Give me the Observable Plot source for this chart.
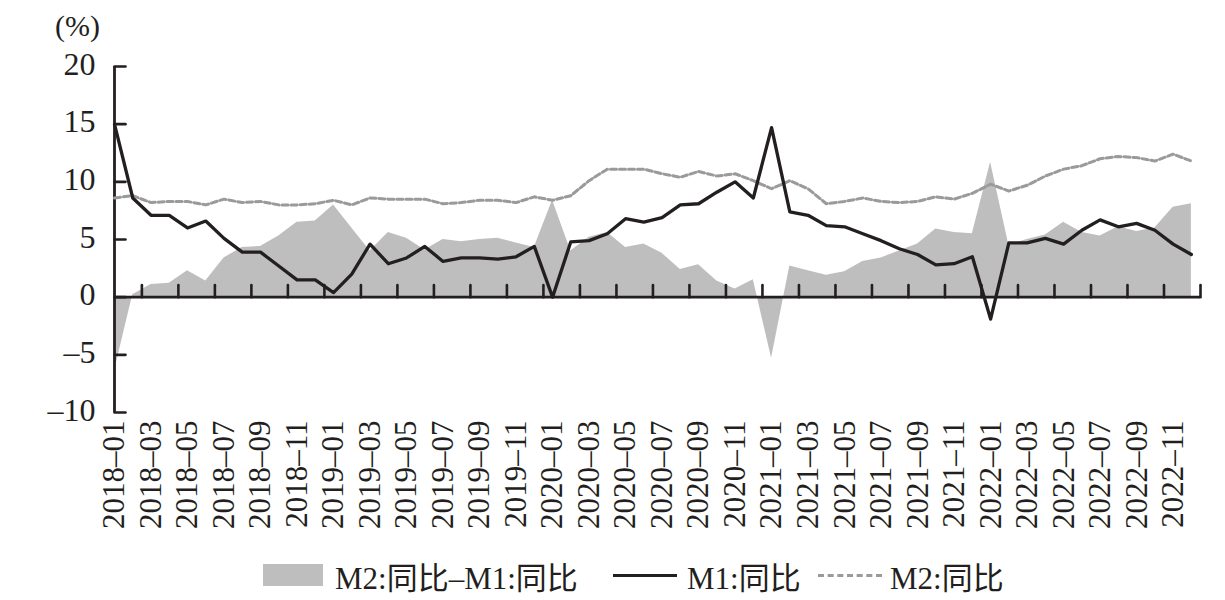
<!DOCTYPE html>
<html>
<head>
<meta charset="utf-8">
<script src="https://cdn.jsdelivr.net/npm/d3@7"></script>
<script src="https://cdn.jsdelivr.net/npm/@observablehq/plot@0.6"></script>
<style>
  html, body { margin: 0; padding: 0; background: #fff; }
  #wrap { width: 1225px; position: relative; }
  #legend { position: relative; width: 1225px; height: 50px; font-family: "Liberation Serif", "Noto Sans CJK SC", serif; font-size: 31px; color: #231f20; }
  #legend .item { position: absolute; top: 0; height: 50px; display: flex; align-items: center; }
  #legend .sw { display: inline-block; }
</style>
</head>
<body>
<div id="wrap"></div>
<div id="legend">
  <div class="item" style="left:263px"><span class="sw" style="width:60px;height:22px;background:#bebebe"></span><span style="margin-left:12px">M2:同比–M1:同比</span></div>
  <div class="item" style="left:613px"><span class="sw" style="width:64px;height:0;border-top:3px solid #231f20"></span><span style="margin-left:10px">M1:同比</span></div>
  <div class="item" style="left:818px"><span class="sw" style="width:64px;height:0;border-top:3px dashed #9a9a9a"></span><span style="margin-left:8px">M2:同比</span></div>
</div>
<script>
const months = [
  "2018–01","2018–02","2018–03","2018–04","2018–05","2018–06","2018–07","2018–08","2018–09","2018–10","2018–11","2018–12",
  "2019–01","2019–02","2019–03","2019–04","2019–05","2019–06","2019–07","2019–08","2019–09","2019–10","2019–11","2019–12",
  "2020–01","2020–02","2020–03","2020–04","2020–05","2020–06","2020–07","2020–08","2020–09","2020–10","2020–11","2020–12",
  "2021–01","2021–02","2021–03","2021–04","2021–05","2021–06","2021–07","2021–08","2021–09","2021–10","2021–11","2021–12",
  "2022–01","2022–02","2022–03","2022–04","2022–05","2022–06","2022–07","2022–08","2022–09","2022–10","2022–11","2022–12"
];
const m1 = [
  15.0, 8.6, 7.1, 7.1, 6.0, 6.6, 5.1, 3.9, 3.9, 2.7, 1.5, 1.5,
  0.4, 2.0, 4.6, 2.9, 3.4, 4.4, 3.1, 3.4, 3.4, 3.3, 3.5, 4.4,
  0.0, 4.8, 4.9, 5.5, 6.8, 6.5, 6.9, 8.0, 8.1, 9.1, 10.0, 8.6,
  14.7, 7.4, 7.1, 6.2, 6.1, 5.5, 4.9, 4.2, 3.7, 2.8, 2.9, 3.5,
  -1.9, 4.7, 4.7, 5.1, 4.6, 5.8, 6.7, 6.1, 6.4, 5.8, 4.6, 3.7
];
const m2 = [
  8.6, 8.8, 8.2, 8.3, 8.3, 8.0, 8.5, 8.2, 8.3, 8.0, 8.0, 8.1,
  8.4, 8.0, 8.6, 8.5, 8.5, 8.5, 8.1, 8.2, 8.4, 8.4, 8.2, 8.7,
  8.4, 8.8, 10.1, 11.1, 11.1, 11.1, 10.7, 10.4, 10.9, 10.5, 10.7, 10.1,
  9.4, 10.1, 9.4, 8.1, 8.3, 8.6, 8.3, 8.2, 8.3, 8.7, 8.5, 9.0,
  9.8, 9.2, 9.7, 10.5, 11.1, 11.4, 12.0, 12.2, 12.1, 11.8, 12.4, 11.8
];
const yTicks = [-10, -5, 0, 5, 10, 15, 20];

const data = months.map((m, i) => ({i, month: m, m1: m1[i], m2: m2[i], spread: +(m2[i] - m1[i]).toFixed(1)}));
const labelIdx = d3.range(0, months.length, 2);
const tickIdx = d3.range(1.5, months.length + 0.5, 2);
const ink = "#231f20";
const tickShape = {draw(ctx, l) { ctx.moveTo(0, 0); ctx.lineTo(0, -l); }};

const chart = Plot.plot({
  width: 1225,
  height: 550,
  marginLeft: 114,
  marginRight: 25,
  marginTop: 66,
  marginBottom: 138,
  style: {fontFamily: "Liberation Serif, serif", fontSize: "31px", color: ink, background: "#fff"},
  x: {domain: [0, months.length - 0.5]},
  y: {domain: [-10, 20]},
  marks: [
    Plot.areaY(data, {x: "i", y: "spread", fill: "#bebebe"}),
    Plot.ruleY([0], {stroke: ink, strokeWidth: 2.8}),
    Plot.ruleX([0], {y1: -10, y2: 20, stroke: ink, strokeWidth: 2.8}),
    Plot.vector(yTicks, {x: 0, y: d => d, length: 11, rotate: 90, anchor: "start", shape: tickShape, stroke: ink, strokeWidth: 2.6}),
    Plot.vector(tickIdx, {x: d => d, y: 0, length: 12, rotate: 0, anchor: "start", shape: tickShape, stroke: ink, strokeWidth: 2.6}),
    Plot.lineY(data, {x: "i", y: "m2", stroke: "#9a9a9a", strokeWidth: 3, strokeDasharray: "6,3"}),
    Plot.lineY(data, {x: "i", y: "m1", stroke: ink, strokeWidth: 3.3}),
    Plot.axisY({ticks: yTicks, tickSize: 0, tickPadding: 19, dy: -2, tickFormat: d => d < 0 ? "–" + Math.abs(d) : String(d), fontSize: 32, label: null}),
    Plot.axisX({ticks: labelIdx, tickSize: 0, tickPadding: 8, tickRotate: -90, tickFormat: i => months[i], fontSize: 31, label: null}),
    Plot.text(["(%)"], {text: d => d, frameAnchor: "top-left", textAnchor: "middle", lineAnchor: "middle", dx: -37, dy: -40, fontSize: 30})
  ]
});
document.getElementById("wrap").appendChild(chart);
</script>
</body>
</html>
